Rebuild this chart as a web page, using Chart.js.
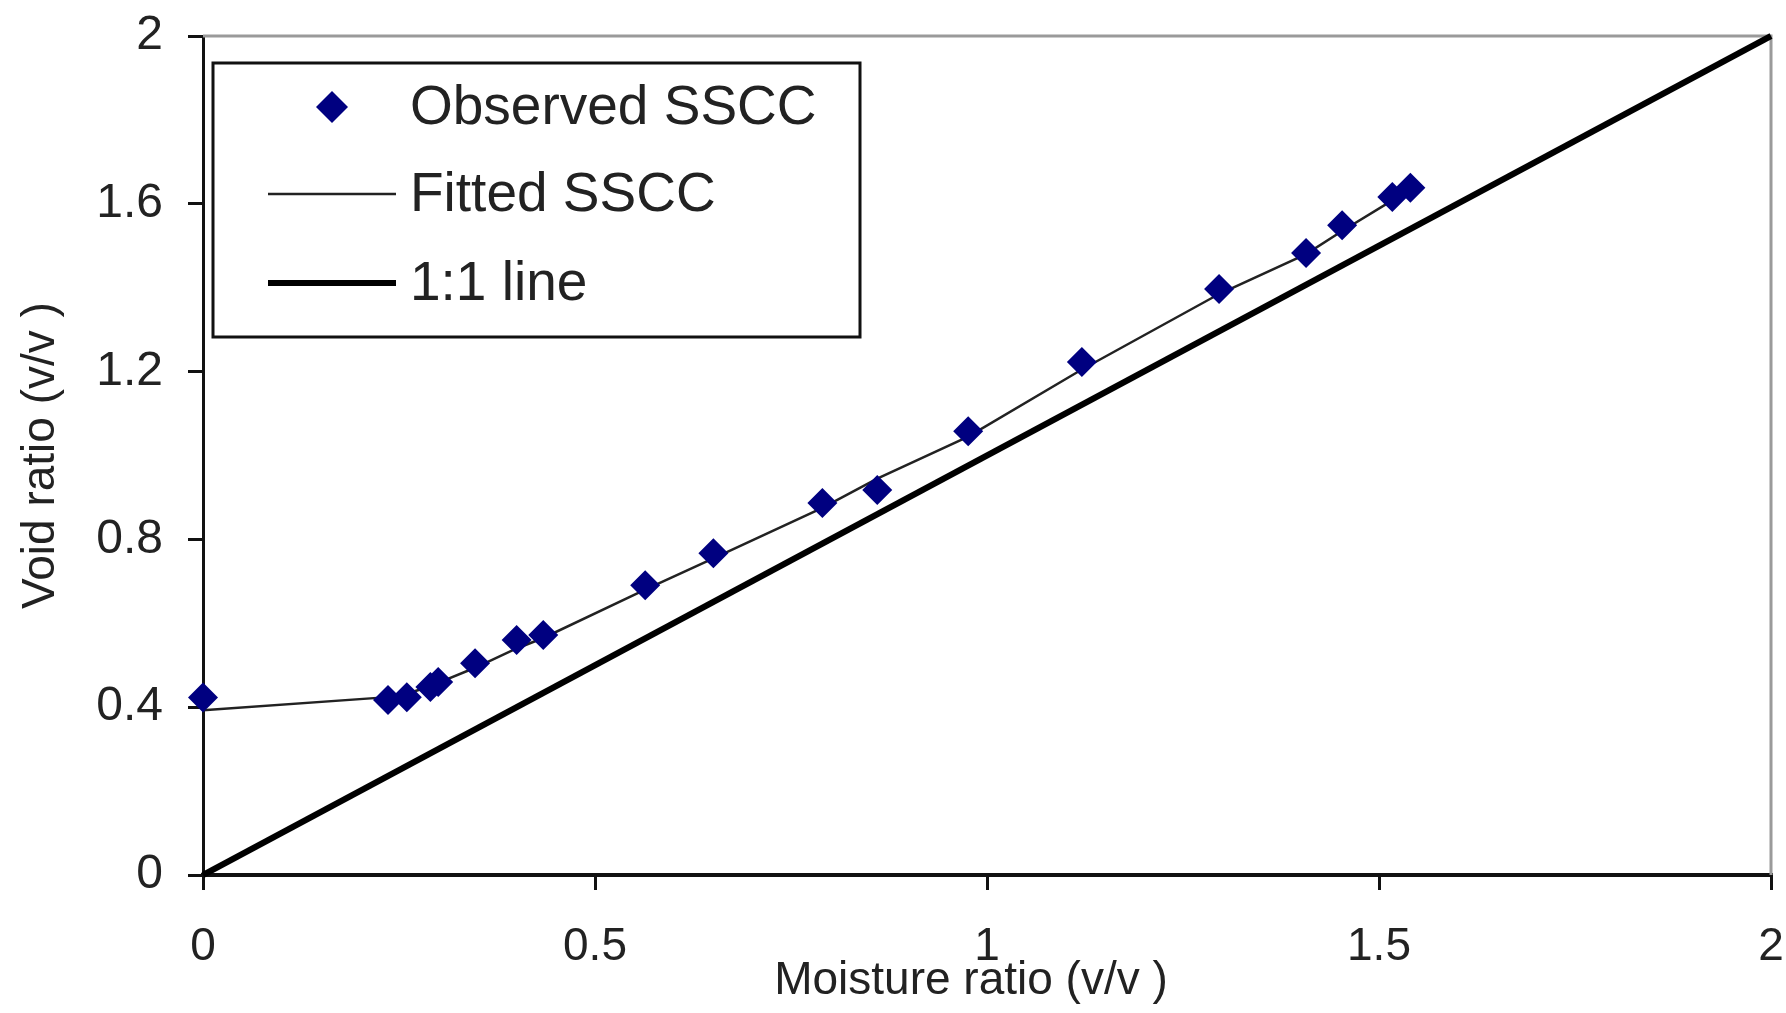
<!DOCTYPE html>
<html>
<head>
<meta charset="utf-8">
<script src="https://cdn.jsdelivr.net/npm/chart.js@4.4.1/dist/chart.umd.min.js"></script>
<style>
  html, body { margin: 0; padding: 0; background: #fff; }
  #wrap { width: 1786px; height: 1013px; position: relative; }
</style>
</head>
<body>
<div id="wrap"><canvas id="ssccChart"></canvas></div>
<script>
// Observed SSCC points (moisture ratio, void ratio)
const obsMoisture = [0, 0.236, 0.26, 0.29, 0.30, 0.347, 0.40, 0.434, 0.564, 0.651, 0.79, 0.86, 0.976, 1.121, 1.296, 1.407, 1.453, 1.517, 1.54];
const obsVoid     = [0.423, 0.417, 0.424, 0.448, 0.46, 0.505, 0.56, 0.572, 0.691, 0.767, 0.887, 0.918, 1.058, 1.223, 1.397, 1.483, 1.549, 1.616, 1.638];

// Fitted SSCC curve
const fitMoisture = [0, 0.236, 0.26, 0.29, 0.30, 0.347, 0.40, 0.434, 0.564, 0.651, 0.79, 0.86, 0.976, 1.121, 1.296, 1.407, 1.453, 1.517, 1.54];
const fitVoid     = [0.393, 0.424, 0.432, 0.45, 0.458, 0.494, 0.54, 0.565, 0.68, 0.755, 0.875, 0.945, 1.045, 1.205, 1.385, 1.48, 1.535, 1.608, 1.63];

// 1:1 line
const lineX = [0, 2];
const lineY = [0, 2];

const xTicks = [0, 0.5, 1, 1.5, 2];
const yTicks = [0, 0.4, 0.8, 1.2, 1.6, 2];

const labels = ["Observed SSCC", "Fitted SSCC", "1:1 line"];
const xTitle = 'Moisture ratio (v/v )';
const yTitle = 'Void ratio (v/v )';

const FONT = "'Liberation Sans', Arial, sans-serif";
const NAVY = '#000080';

const toPoints = (xs, ys) => xs.map((x, i) => ({ x: x, y: ys[i] }));

// gris arriba y a la derecha del area
const frame = {
  id: 'frame',
  beforeDatasetsDraw(chart) {
    const { ctx, chartArea: a } = chart;
    ctx.save();
    ctx.strokeStyle = '#9a9a9a';
    ctx.lineWidth = 3;
    ctx.beginPath();
    ctx.moveTo(a.left, a.top);
    ctx.lineTo(a.right, a.top);
    ctx.lineTo(a.right, a.bottom);
    ctx.stroke();
    ctx.restore();
  }
};

// etiquetas y titulo del eje x, a distancia fija bajo el eje
const xAxisText = {
  id: 'xAxisText',
  afterDraw(chart) {
    const { ctx, chartArea: a, scales: { x } } = chart;
    ctx.save();
    ctx.fillStyle = '#222';
    ctx.textAlign = 'center';
    ctx.textBaseline = 'middle';
    ctx.font = '46px ' + FONT;
    x.ticks.forEach(t => {
      ctx.fillText(String(t.value), x.getPixelForValue(t.value), a.bottom + 72);
    });
    ctx.fillText(xTitle, (a.left + a.right) / 2 - 16, a.bottom + 106);
    ctx.restore();
  }
};

// leyenda con recuadro dentro del grafico
const boxLegend = {
  id: 'boxLegend',
  afterDatasetsDraw(chart) {
    const { ctx, chartArea: a } = chart;
    const bx = a.left + 10, by = a.top + 27, bw = 647, bh = 274;
    ctx.save();
    ctx.fillStyle = '#fff';
    ctx.fillRect(bx, by, bw, bh);
    ctx.strokeStyle = '#111';
    ctx.lineWidth = 3;
    ctx.strokeRect(bx, by, bw, bh);

    const rows = [by + 44, by + 131, by + 220];
    const textX = a.left + 207;
    ctx.font = '55px ' + FONT;
    ctx.textBaseline = 'middle';
    ctx.textAlign = 'left';

    chart.data.datasets.forEach((ds, i) => {
      const y = rows[i];
      if (ds.showLine === false) {
        const cx = a.left + 129, r = 16;
        ctx.fillStyle = ds.pointBackgroundColor;
        ctx.beginPath();
        ctx.moveTo(cx - r, y);
        ctx.lineTo(cx, y - r);
        ctx.lineTo(cx + r, y);
        ctx.lineTo(cx, y + r);
        ctx.closePath();
        ctx.fill();
      } else {
        ctx.strokeStyle = ds.borderColor;
        ctx.lineWidth = ds.borderWidth;
        ctx.beginPath();
        ctx.moveTo(a.left + 65, y);
        ctx.lineTo(a.left + 193, y);
        ctx.stroke();
      }
      ctx.fillStyle = '#222';
      ctx.fillText(ds.label, textX, y + 2);
    });
    ctx.restore();
  }
};

const ctx = document.getElementById('ssccChart').getContext('2d');
const ssccChart = new Chart(ctx, {
  type: 'scatter',
  data: {
    datasets: [
      {
        label: labels[0],
        data: toPoints(obsMoisture, obsVoid),
        showLine: false,
        pointStyle: 'rectRot',
        pointRadius: 15,
        pointBackgroundColor: NAVY,
        pointBorderColor: NAVY,
        pointBorderWidth: 0,
        clip: false
      },
      {
        label: labels[1],
        data: toPoints(fitMoisture, fitVoid),
        showLine: true,
        borderColor: '#222',
        borderWidth: 2.5,
        pointRadius: 0,
        tension: 0
      },
      {
        label: labels[2],
        data: toPoints(lineX, lineY),
        showLine: true,
        borderColor: '#000',
        borderWidth: 6,
        pointRadius: 0,
        clip: false
      }
    ]
  },
  options: {
    responsive: true,
    maintainAspectRatio: false,
    animation: false,
    layout: { padding: { top: 36, right: 15, left: 0, bottom: 0 } },
    plugins: {
      legend: { display: false },
      tooltip: { enabled: false }
    },
    scales: {
      x: {
        type: 'linear',
        min: 0,
        max: 2,
        afterBuildTicks: s => { s.ticks = xTicks.map(v => ({ value: v })); },
        afterFit: s => { s.height = 138; s.paddingLeft = 0; s.paddingRight = 0; },
        ticks: { display: false },
        grid: { drawOnChartArea: false, drawTicks: true, tickLength: 15, color: '#111', lineWidth: 3 },
        border: { display: true, color: '#111', width: 4 },
        title: { display: false }
      },
      y: {
        type: 'linear',
        min: 0,
        max: 2,
        afterBuildTicks: s => { s.ticks = yTicks.map(v => ({ value: v })); },
        afterFit: s => { s.width = 203; s.paddingTop = 0; },
        ticks: {
          color: '#222',
          font: { family: FONT, size: 48 },
          padding: 25,
          callback: v => String(v)
        },
        grid: { drawOnChartArea: false, drawTicks: true, tickLength: 15, color: '#111', lineWidth: 3 },
        border: { display: true, color: '#111', width: 3 },
        title: {
          display: true,
          text: yTitle,
          color: '#222',
          font: { family: FONT, size: 46 },
          padding: { top: 14, bottom: 0 }
        }
      }
    }
  },
  plugins: [frame, boxLegend, xAxisText]
});
</script>
</body>
</html>
